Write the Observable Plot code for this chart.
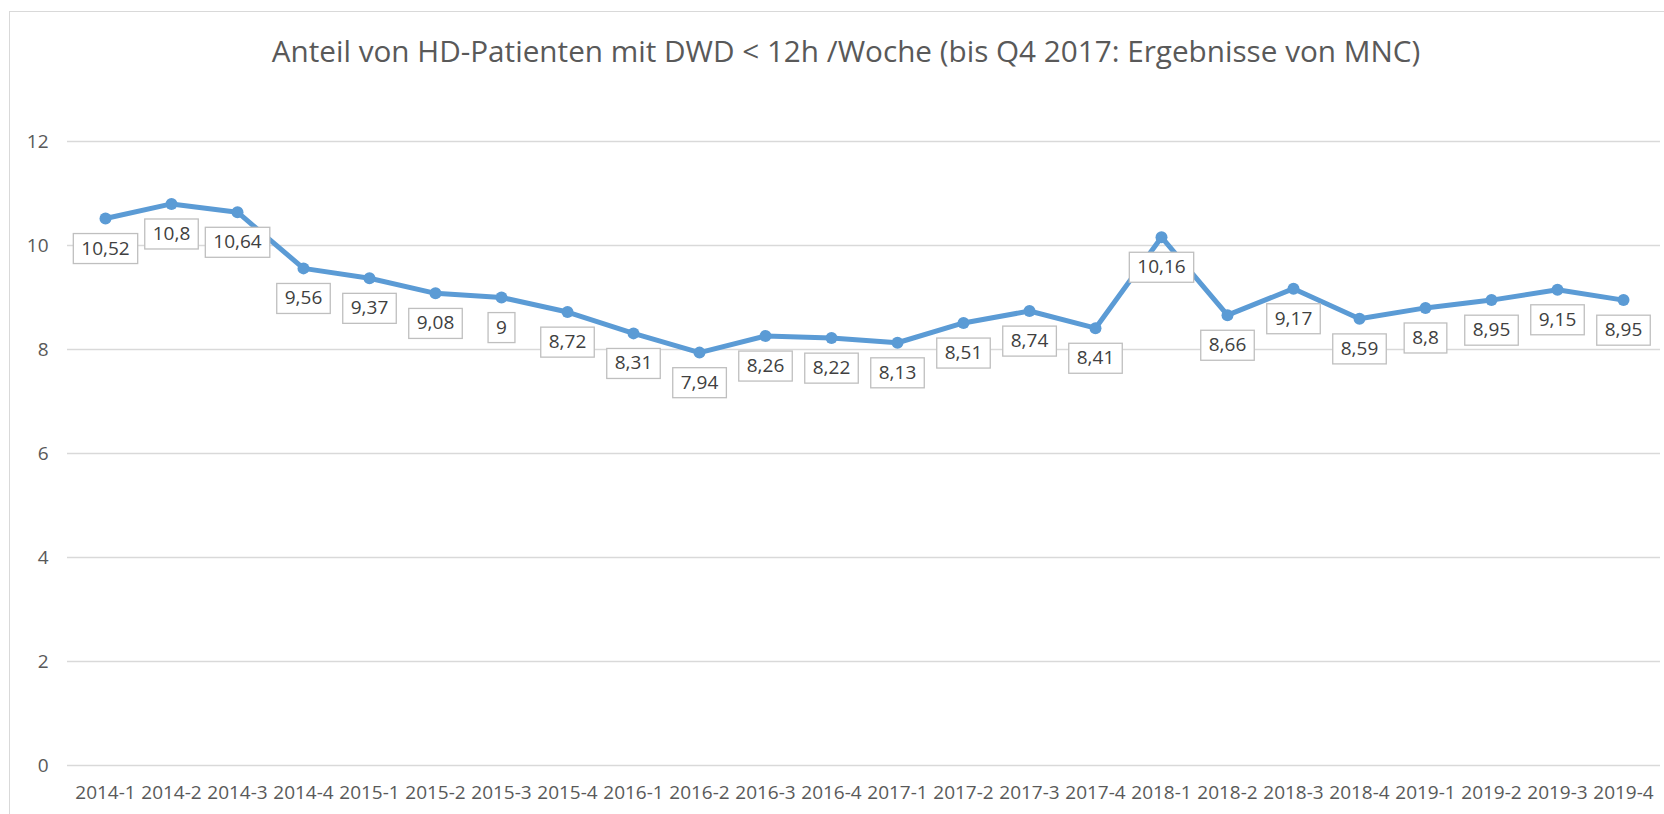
<!DOCTYPE html>
<html>
<head>
<meta charset="utf-8">
<script src="https://cdn.jsdelivr.net/npm/d3@7"></script>
<script src="https://cdn.jsdelivr.net/npm/@observablehq/plot@0.6"></script>
<style>
  body { margin: 0; background: #fff; }
  #wrap { position: relative; width: 1664px; height: 814px; overflow: hidden; background: #fff; font-family: "Open Sans", sans-serif; }
  #frame { position: absolute; left: 9px; top: 11px; width: 1700px; height: 900px; border: 1px solid #d9d9d9; box-sizing: border-box; }
  #title { position: absolute; left: 0; top: 32px; width: 1692px; text-align: center; font-size: 29.7px; line-height: 38px; color: #595959; }
  #chart { position: absolute; left: 0; top: 100px; }
</style>
</head>
<body>
<div id="wrap">
  <div id="frame"></div>
  <div id="title">Anteil von HD-Patienten mit DWD &lt; 12h /Woche (bis Q4 2017: Ergebnisse von MNC)</div>
  <div id="chart"></div>
</div>
<script>
const categories = ["2014-1","2014-2","2014-3","2014-4","2015-1","2015-2","2015-3","2015-4","2016-1","2016-2","2016-3","2016-4","2017-1","2017-2","2017-3","2017-4","2018-1","2018-2","2018-3","2018-4","2019-1","2019-2","2019-3","2019-4"];
const values = [10.52,10.8,10.64,9.56,9.37,9.08,9,8.72,8.31,7.94,8.26,8.22,8.13,8.51,8.74,8.41,10.16,8.66,9.17,8.59,8.8,8.95,9.15,8.95];
const yTicks = [0,2,4,6,8,10,12];

const data = categories.map((c, i) => ({cat: c, v: values[i]}));
const fmt = v => String(v).replace(".", ",");

const blue = "#5b9bd5";
const plot = Plot.plot({
  width: 1664,
  height: 714,
  marginLeft: 67,
  marginRight: 4,
  marginTop: 41,
  marginBottom: 49,
  style: { fontFamily: "Open Sans, sans-serif", fontSize: "19px", color: "#595959", background: "transparent", overflow: "visible" },
  x: { type: "point", domain: categories, padding: 0.5 },
  y: { domain: [0, 12] },
  marks: [
    Plot.gridY(yTicks, { stroke: "#d9d9d9", strokeOpacity: 1, strokeWidth: 1.3 }),
    Plot.axisY(yTicks, { tickSize: 0, tickPadding: 19, label: null, fontSize: 19, tickFormat: d => String(d) }),
    Plot.axisX({ tickSize: 0, tickPadding: 20, label: null, fontSize: 19 }),
    Plot.line(data, { x: "cat", y: "v", stroke: blue, strokeWidth: 5, strokeLinejoin: "round", strokeLinecap: "round" }),
    Plot.dot(data, { x: "cat", y: "v", r: 6, fill: blue, stroke: "none" }),
    Plot.text(data, { x: "cat", y: "v", text: d => fmt(d.v), dy: 30, fontSize: 19, fill: "#404040", className: "dlabels" })
  ]
});
document.getElementById("chart").appendChild(plot);

// white boxes with grey border behind the data labels
d3.select(plot).selectAll("g.dlabels text").each(function() {
  const b = this.getBBox();
  const cy = b.y + b.height / 2 + 1;
  const h = 30;
  const rect = document.createElementNS("http://www.w3.org/2000/svg", "rect");
  rect.setAttribute("x", b.x - 8);
  rect.setAttribute("y", cy - h / 2);
  rect.setAttribute("width", b.width + 16);
  rect.setAttribute("height", h);
  rect.setAttribute("fill", "#ffffff");
  rect.setAttribute("stroke", "#bfbfbf");
  rect.setAttribute("stroke-width", "1.3");
  const t = this.getAttribute("transform");
  if (t) rect.setAttribute("transform", t);
  this.parentNode.insertBefore(rect, this);
});
</script>
</body>
</html>
